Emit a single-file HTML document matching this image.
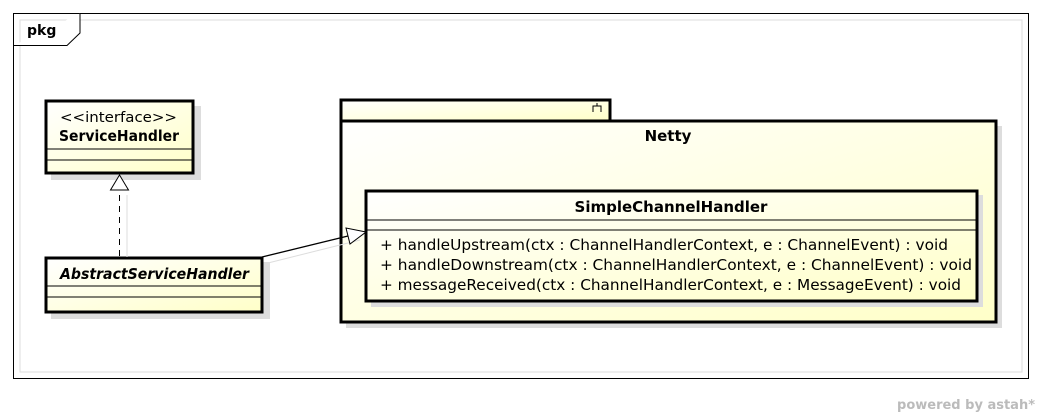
<!DOCTYPE html>
<html><head><meta charset="utf-8"><style>
html,body{margin:0;padding:0;background:#fff;width:1041px;height:416px;overflow:hidden}
svg{display:block}
text{font-family:"DejaVu Sans","Liberation Sans",sans-serif;fill:#000}
</style></head><body>
<svg width="1041" height="416" viewBox="0 0 1041 416" xmlns="http://www.w3.org/2000/svg">
<defs>
<linearGradient id="g" x1="0" y1="0" x2="1" y2="1">
<stop offset="0" stop-color="#ffffff"/><stop offset="1" stop-color="#ffffc8"/>
</linearGradient>
</defs>
<rect x="13.5" y="13.5" width="1015" height="365" fill="none" stroke="#000" stroke-width="1"/>
<rect x="20" y="20" width="1002" height="352" fill="none" stroke="#ddd" stroke-width="1"/>
<path d="M13.5 45.5 H67 L80 33 V13.5" fill="#fff" stroke="#000" stroke-width="1"/>
<text x="27" y="35" font-size="14" font-weight="bold">pkg</text>

<rect x="51" y="106" width="150" height="74" fill="#ddd"/>
<rect x="46" y="101" width="147" height="72" fill="url(#g)" stroke="#000" stroke-width="3"/>
<line x1="46" y1="149" x2="193" y2="149" stroke="#000" stroke-width="1"/>
<line x1="46" y1="160" x2="193" y2="160" stroke="#000" stroke-width="1"/>
<text x="60" y="122" font-size="14" textLength="117" lengthAdjust="spacingAndGlyphs">&lt;&lt;interface&gt;&gt;</text>
<text x="59" y="141" font-size="15" font-weight="bold" textLength="120" lengthAdjust="spacingAndGlyphs">ServiceHandler</text>

<rect x="51" y="262" width="219" height="57" fill="#ddd"/>
<rect x="46" y="258" width="216" height="54" fill="url(#g)" stroke="#000" stroke-width="3"/>
<line x1="46" y1="286" x2="262" y2="286" stroke="#000" stroke-width="1"/>
<line x1="46" y1="297" x2="262" y2="297" stroke="#000" stroke-width="1"/>
<text x="60" y="279" font-size="15" font-weight="bold" font-style="italic" textLength="189" lengthAdjust="spacingAndGlyphs">AbstractServiceHandler</text>

<line x1="127" y1="257" x2="127" y2="195" stroke="#ddd" stroke-width="1"/>
<line x1="119.5" y1="256" x2="119.5" y2="190" stroke="#000" stroke-width="1" stroke-dasharray="6,5"/>
<path d="M119.5 175 L110.5 190 H128.5 Z" fill="#fff" stroke="#000" stroke-width="1"/>

<rect x="346" y="126" width="656" height="202" fill="#ddd"/>
<rect x="341" y="100" width="269" height="21" fill="url(#g)" stroke="#000" stroke-width="3"/>
<rect x="341" y="121" width="655" height="201" fill="url(#g)" stroke="#000" stroke-width="3"/>
<path d="M593 112 V106 H601 V112 M597 106 V103" fill="none" stroke="#000" stroke-width="1"/>
<text x="668" y="141" font-size="15" font-weight="bold" text-anchor="middle">Netty</text>

<rect x="371" y="195" width="612" height="112" fill="#ddd"/>
<rect x="366" y="191" width="611" height="110" fill="url(#g)" stroke="#000" stroke-width="3"/>
<line x1="366" y1="220" x2="977" y2="220" stroke="#000" stroke-width="1"/>
<line x1="366" y1="230" x2="977" y2="230" stroke="#000" stroke-width="1"/>
<text x="671" y="212" font-size="15" font-weight="bold" text-anchor="middle">SimpleChannelHandler</text>
<text x="380" y="250" font-size="15" textLength="568" lengthAdjust="spacingAndGlyphs">+ handleUpstream(ctx : ChannelHandlerContext, e : ChannelEvent) : void</text>
<text x="380" y="270" font-size="15" textLength="592" lengthAdjust="spacingAndGlyphs">+ handleDownstream(ctx : ChannelHandlerContext, e : ChannelEvent) : void</text>
<text x="380" y="290" font-size="15" textLength="581" lengthAdjust="spacingAndGlyphs">+ messageReceived(ctx : ChannelHandlerContext, e : MessageEvent) : void</text>

<line x1="268" y1="263" x2="360" y2="240" stroke="#ddd" stroke-width="1"/>
<line x1="262" y1="257" x2="348" y2="236" stroke="#000" stroke-width="1.3"/>
<path d="M366 232 L346 228 L350 244 Z" fill="#fff" stroke="#000" stroke-width="1"/>

<text x="1035" y="409" font-size="13" font-weight="bold" text-anchor="end" style="fill:#bbb">powered by astah*</text>
</svg>
</body></html>
